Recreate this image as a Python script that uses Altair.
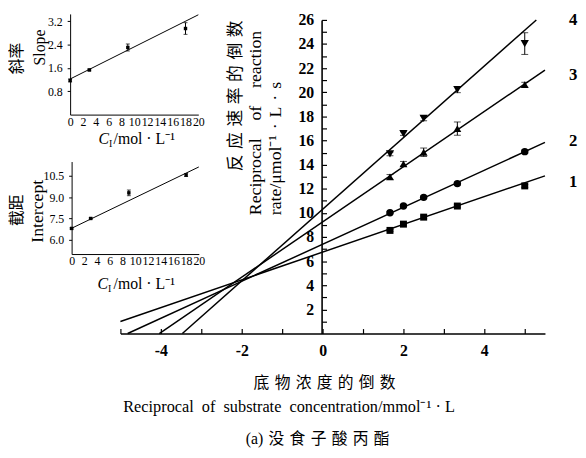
import altair as alt
import pandas as pd

# ---------------- data ----------------
# main Lineweaver-Burk plot
inv_substrate = [1.667, 2.0, 2.5, 3.333, 5.0]
series_names = ["1", "2", "3", "4"]
rate_1 = [8.55, 9.07, 9.65, 10.57, 12.24]
rate_2 = [10.02, 10.57, 11.29, 12.43, 15.08]
rate_3 = [12.98, 14.07, 15.03, 16.99, 20.63]
rate_4 = [14.89, 16.58, 17.84, 20.22, 24.04]
err_1 = [0.08, 0.08, 0.10, 0.10, 0.12]
err_2 = [0.08, 0.10, 0.10, 0.12, 0.12]
err_3 = [0.20, 0.20, 0.35, 0.55, 0.20]
err_4 = [0.15, 0.15, 0.20, 0.25, 0.90]
fit_intercept = [6.75, 7.40, 9.25, 10.30]
fit_slope = [1.15, 1.535, 2.29, 2.97]

# insets (secondary plots)
inhibitor_conc = [0, 3, 9, 18]
slope_vals = [1.17, 1.53, 2.30, 2.95]
slope_err = [0.05, 0.03, 0.12, 0.20]
slope_fit = [1.22, 0.110]          # intercept, slope of fitted line
intercept_vals = [6.80, 7.50, 9.30, 10.55]
intercept_err = [0.05, 0.05, 0.20, 0.10]
intercept_fit = [6.81, 0.2155]

main_x_ticks = [-4, -2, 0, 2, 4]
main_y_ticks = [2, 4, 6, 8, 10, 12, 14, 16, 18, 20, 22, 24, 26]
inset_x_ticks = [0, 2, 4, 6, 8, 10, 12, 14, 16, 18, 20]
slope_y_ticks = [0.8, 1.6, 2.4, 3.2]
intercept_y_ticks = [6.0, 7.5, 9.0, 10.5]

# ---------------- tables ----------------
X_MIN, X_MAX, Y_MAX = -5.0, 5.5, 26.0
rows = []
for name, r, e in zip(series_names, [rate_1, rate_2, rate_3, rate_4], [err_1, err_2, err_3, err_4]):
    for x, y, d in zip(inv_substrate, r, e):
        rows.append(dict(series=name, x=x, y=y, lo=y - d, hi=y + d))
pts = pd.DataFrame(rows)
caps = pd.concat([pts.assign(cap=pts["lo"]), pts.assign(cap=pts["hi"])])

lrows = []
for name, b, m in zip(series_names, fit_intercept, fit_slope):
    x0 = max(X_MIN, -b / m)
    x1 = min(X_MAX, (Y_MAX - b) / m)
    for x in (x0, x1):
        lrows.append(dict(series=name, x=x, y=b + m * x))
lines = pd.DataFrame(lrows)


def inset_tables(vals, errs, fit):
    p = pd.DataFrame({"x": inhibitor_conc, "y": vals,
                      "lo": [v - e for v, e in zip(vals, errs)],
                      "hi": [v + e for v, e in zip(vals, errs)]})
    c = pd.concat([p.assign(cap=p["lo"]), p.assign(cap=p["hi"])])
    l = pd.DataFrame({"x": [0, 20], "y": [fit[0], fit[0] + fit[1] * 20]})
    return p, c, l


W, H = 578, 442
SERIF = "Liberation Serif, Noto Sans CJK SC"

# ---------------- scales ----------------
main_xs = alt.Scale(domain=[X_MIN, X_MAX], range=[114, 544.5], nice=False, zero=False)
main_ys = alt.Scale(domain=[0, Y_MAX], range=[327, 9], nice=False, zero=False)

lab_common = dict(grid=False, labelFont="Liberation Serif", labelColor="black",
                  labelFlush=False, labelOverlap=False, labelBound=False, domainColor="black")

x_label_axis = alt.Axis(orient="bottom", offset=327 - H, values=main_x_ticks,
                        labelExpr="'' + datum.value",
                        ticks=False, tickSize=0, domain=True, domainWidth=1.6,
                        labelFontWeight="bold", labelFontSize=16, labelPadding=9, **lab_common)
y_label_axis = alt.Axis(orient="left", offset=-318, values=main_y_ticks, format="d",
                        ticks=False, tickSize=0, domain=True, domainWidth=1.6,
                        labelFontWeight="bold", labelFontSize=16, labelPadding=8, **lab_common)
x_tick_axis = alt.Axis(orient="top", offset=-327, values=list(range(-5, 6)), labels=False,
                       domain=False, ticks=True, tickSize=5, tickColor="black", tickWidth=1.2, grid=False)
y_tick_axis = alt.Axis(orient="right", offset=318 - W, values=list(range(1, 27)), labels=False,
                       domain=False, ticks=True, tickSize=5, tickColor="black", tickWidth=1.2, grid=False)

# ---------------- main layers ----------------
line_layer = alt.Chart(lines).mark_line(color="black", strokeWidth=1.5).encode(
    x=alt.X("x:Q", scale=main_xs, axis=x_label_axis, title=None),
    y=alt.Y("y:Q", scale=main_ys, axis=y_label_axis, title=None),
    detail="series:N",
)
point_layer = alt.Chart(pts).mark_point(filled=True, color="black", opacity=1).encode(
    x=alt.X("x:Q", scale=main_xs, axis=x_tick_axis, title=None),
    y=alt.Y("y:Q", scale=main_ys, axis=y_tick_axis, title=None),
    shape=alt.Shape("series:N", scale=alt.Scale(domain=series_names,
                    range=["square", "circle", "triangle-up", "triangle-down"]), legend=None),
    size=alt.Size("series:O", scale=alt.Scale(domain=series_names, range=[50, 70, 100, 100]), legend=None),
)
err_layer = alt.Chart(pts).mark_rule(color="black", strokeWidth=1).encode(
    x=alt.X("x:Q", scale=main_xs, axis=None),
    y=alt.Y("lo:Q", scale=main_ys, axis=None),
    y2="hi:Q",
)
cap_layer = alt.Chart(caps).mark_tick(orient="horizontal", size=7, thickness=1, color="black").encode(
    x=alt.X("x:Q", scale=main_xs, axis=None),
    y=alt.Y("cap:Q", scale=main_ys, axis=None),
)


# ---------------- insets ----------------
def inset(vals, errs, fit, xrange, ydomain, yrange, yticks):
    p, c, l = inset_tables(vals, errs, fit)
    xs = alt.Scale(domain=[0, 20], range=xrange, nice=False, zero=False)
    ys = alt.Scale(domain=ydomain, range=yrange, nice=False, zero=False)
    xa = alt.Axis(orient="bottom", offset=yrange[0] - H, values=inset_x_ticks, format="d",
                  ticks=False, tickSize=0, domain=True, domainWidth=1,
                  labelFontSize=12, labelPadding=2, **lab_common)
    ya = alt.Axis(orient="left", offset=-xrange[0], values=yticks, format=".1f",
                  ticks=True, tickSize=3, tickColor="black", domain=True, domainWidth=1,
                  labelFontSize=12, labelPadding=5, **lab_common)
    ln = alt.Chart(l).mark_line(color="black", strokeWidth=1).encode(
        x=alt.X("x:Q", scale=xs, axis=xa, title=None),
        y=alt.Y("y:Q", scale=ys, axis=ya, title=None),
    )
    pt = alt.Chart(p).mark_point(filled=True, shape="square", size=12, color="black", opacity=1).encode(
        x=alt.X("x:Q", scale=xs, axis=None), y=alt.Y("y:Q", scale=ys, axis=None))
    er = alt.Chart(p).mark_rule(color="black", strokeWidth=1).encode(
        x=alt.X("x:Q", scale=xs, axis=None), y=alt.Y("lo:Q", scale=ys, axis=None), y2="hi:Q")
    cp = alt.Chart(c).mark_tick(orient="horizontal", size=4, thickness=1, color="black").encode(
        x=alt.X("x:Q", scale=xs, axis=None), y=alt.Y("cap:Q", scale=ys, axis=None))
    return [ln, er, cp, pt]


inset1 = inset(slope_vals, slope_err, slope_fit, [63, 193], [0, 3.45], [105, 2.9], slope_y_ticks)
inset2 = inset(intercept_vals, intercept_err, intercept_fit, [64.5, 193.5], [5.0, 11.5],
               [246.4, 152.6], intercept_y_ticks)


# ---------------- text annotations ----------------
def txt(text, x, y, size, font=SERIF, weight="normal", style="normal", angle=0,
        align="center", baseline="middle"):
    return alt.Chart(pd.DataFrame({"t": [text]})).mark_text(
        font=font, fontSize=size, fontWeight=weight, fontStyle=style, angle=angle,
        align=align, baseline=baseline, color="black",
    ).encode(x=alt.value(x), y=alt.value(y), text="t:N")


sp = "\u2004"   # thin-ish space used to reproduce the wide character spacing
en = "\u2002"   # en space for the wide word spacing
texts = [
    # main y title
    txt(sp.join("反应速率的倒数"), 231, 86, 17, angle=270),
    txt(en.join(["Reciprocal", "", "of", "", "reaction"]), 252, 207, 18, angle=270, align="left"),
    txt("rate/μmol⁻¹" + sp + "·" + sp + "L" + sp + "·" + sp + "s", 272, 207, 18, angle=270, align="left"),
    # main x title and caption
    txt(sp.join("底物浓度的倒数"), 321, 377, 16),
    txt(en.join(["Reciprocal", "of", "substrate", "concentration/mmol⁻¹ · L"]), 285, 402, 16.5),
    txt("(a)" + sp + sp.join("没食子酸丙酯"), 314, 434, 16),
    # series labels
    txt(series_names[3], 573, 9, 17, weight="bold"),
    txt(series_names[2], 573, 65, 17, weight="bold"),
    txt(series_names[1], 573, 132, 17, weight="bold"),
    txt(series_names[0], 573, 173, 17, weight="bold"),
    # inset 1 titles
    txt("斜率", 9, 48, 16, angle=270),
    txt("Slope", 33, 37, 16, angle=270),
    txt("C", 97, 130, 16, style="italic"),
    txt("I", 104, 135, 10),
    txt("/mol · L⁻¹", 107, 130, 16, align="left"),
    # inset 2 titles
    txt("截距", 9, 202, 16, angle=270),
    txt("Intercept", 30, 203, 18, angle=270),
    txt("C", 96, 277, 16, style="italic"),
    txt("I", 103, 282, 10),
    txt("/mol · L⁻¹", 107, 277, 16, align="left"),
]

chart = alt.layer(
    line_layer, err_layer, cap_layer, point_layer, *inset1, *inset2, *texts
).resolve_scale(
    x="independent", y="independent"
).resolve_axis(
    x="independent", y="independent"
).properties(
    width=W, height=H, padding=0, autosize=alt.AutoSizeParams(type="none"),
).configure_view(strokeWidth=0)

chart.save("out.html", embed_options={"renderer": "svg", "actions": False})
